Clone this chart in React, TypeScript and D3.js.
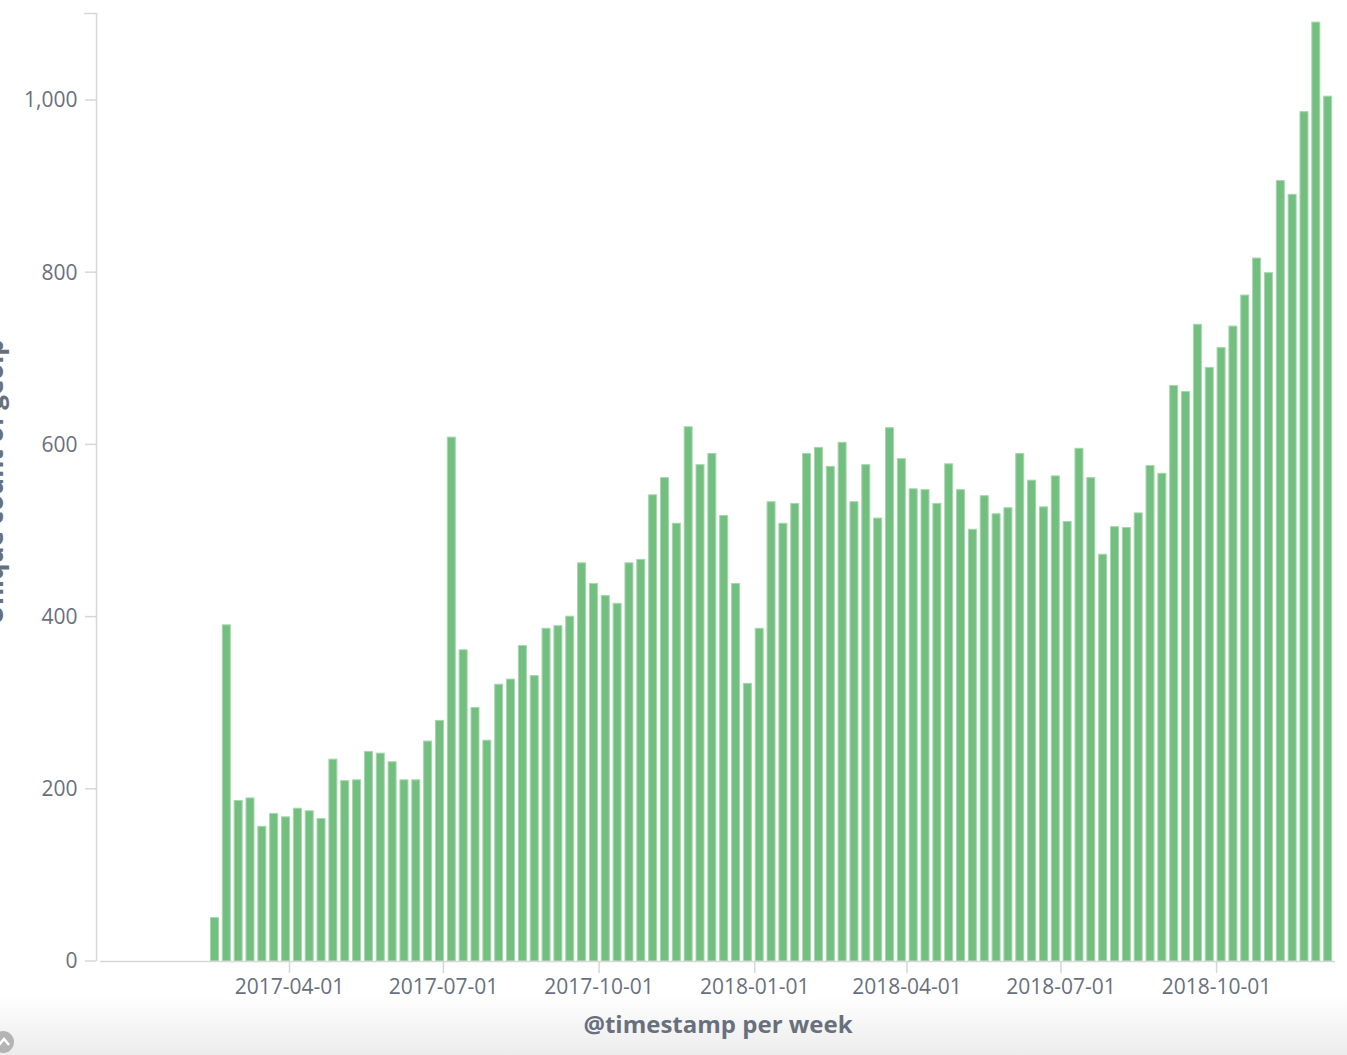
import React from "react";
import * as d3 from "d3";

const weekStart = "2017-02-13";
const values: number[] = [
  51, 391, 187, 190, 157, 172, 168, 178, 175, 166,
  235, 210, 211, 244, 242, 232, 211, 211, 256, 280,
  609, 362, 295, 257, 322, 328, 367, 332, 387, 390,
  401, 463, 439, 425, 416, 463, 467, 542, 562, 509,
  621, 577, 590, 518, 439, 323, 387, 534, 509, 532,
  590, 597, 575, 603, 534, 577, 515, 620, 584, 549,
  548, 532, 578, 548, 502, 541, 520, 527, 590, 559,
  528, 564, 511, 596, 562, 473, 505, 504, 521, 576,
  567, 669, 662, 740, 690, 713, 738, 774, 817, 800,
  907, 891, 987, 1091, 1005,
];
const xTicks: string[] = [
  "2017-04-01", "2017-07-01", "2017-10-01", "2018-01-01",
  "2018-04-01", "2018-07-01", "2018-10-01",
];
const yTicks: number[] = [0, 200, 400, 600, 800, 1000];
const xDomain: string[] = ["2016-12-10", "2018-12-10"];
const yMax = 1101;
const xTitle = "@timestamp per week";
const yTitle = "Unique count of geoip";

const W = 1347;
const H = 1055;
const left = 100;
const right = 1335;
const top = 13;
const bottom = 961;
const textColor = "#69707d";
const axisColor = "#d7d7d7";
const barFill = "#73bf7f";
const barStroke = "#a6d6ae";
const font = "'Open Sans', sans-serif";

export default function App() {
  const parse = d3.utcParse("%Y-%m-%d");
  const x = d3
    .scaleUtc()
    .domain(xDomain.map((d) => parse(d) as Date))
    .range([left, right]);
  const y = d3.scaleLinear().domain([0, yMax]).range([bottom, top]);
  const start = parse(weekStart) as Date;
  const bars = values.map((v, i) => {
    const d0 = d3.utcMonday.offset(start, i);
    const d1 = d3.utcMonday.offset(start, i + 1);
    return { v, x0: x(d0), x1: x(d1) };
  });
  const fmt = d3.format(",");

  return (
    <svg
      width={W}
      height={H}
      style={{ position: "absolute", left: 0, top: 0, background: "#fff" }}
      fontFamily={font}
    >
      <defs>
        <linearGradient id="bottomFade" x1="0" y1="0" x2="0" y2="1">
          <stop offset="0" stopColor="#ffffff" />
          <stop offset="1" stopColor="#ececec" />
        </linearGradient>
      </defs>
      <rect x={0} y={995} width={W} height={H - 995} fill="url(#bottomFade)" />

      {/* bars */}
      {bars.map((b, i) => {
        const w = (b.x1 - b.x0) * 0.76;
        return (
          <rect
            key={i}
            x={b.x0 + 0.5}
            y={y(b.v) + 0.5}
            width={w - 1}
            height={bottom - y(b.v) - 0.5}
            fill={barFill}
            stroke={barStroke}
            strokeWidth={1}
          />
        );
      })}

      {/* y axis */}
      <line x1={96.5} x2={96.5} y1={top} y2={bottom} stroke={axisColor} strokeWidth={1.5} />
      <line x1={84} x2={96.5} y1={top + 0.5} y2={top + 0.5} stroke={axisColor} strokeWidth={1.5} />
      {yTicks.map((t) => (
        <g key={t} transform={`translate(0,${y(t)})`}>
          <line x1={85} x2={96} y1={0} y2={0} stroke={axisColor} strokeWidth={1.5} />
          <text
            x={77.5}
            y={0}
            dy="0.35em"
            textAnchor="end"
            fontSize={21}
            fill={textColor}
          >
            {fmt(t)}
          </text>
        </g>
      ))}

      {/* x axis */}
      <line x1={left} x2={right} y1={bottom + 0.5} y2={bottom + 0.5} stroke={axisColor} strokeWidth={1.5} />
      {xTicks.map((t) => {
        const px = x(parse(t) as Date);
        return (
          <g key={t} transform={`translate(${px},0)`}>
            <line x1={0} x2={0} y1={bottom} y2={bottom + 12} stroke={axisColor} strokeWidth={1.5} />
            <text
              x={0}
              y={994}
              textAnchor="middle"
              fontSize={21}
              fill={textColor}
            >
              {t}
            </text>
          </g>
        );
      })}

      <text
        x={718}
        y={1033}
        textAnchor="middle"
        fontSize={24}
        fontWeight="bold"
        fill={textColor}
      >
        {xTitle}
      </text>
      <text
        transform={`translate(3,482) rotate(-90)`}
        textAnchor="middle"
        fontSize={26}
        fontWeight="bold"
        fill={textColor}
      >
        {yTitle}
      </text>

      {/* corner toggle icon */}
      <circle cx={3} cy={1042} r={11} fill="#b4b4b4" />
      <path d="M-1,1045 L4,1039 L9,1045" fill="none" stroke="#fff" strokeWidth={2.5} />
    </svg>
  );
}
